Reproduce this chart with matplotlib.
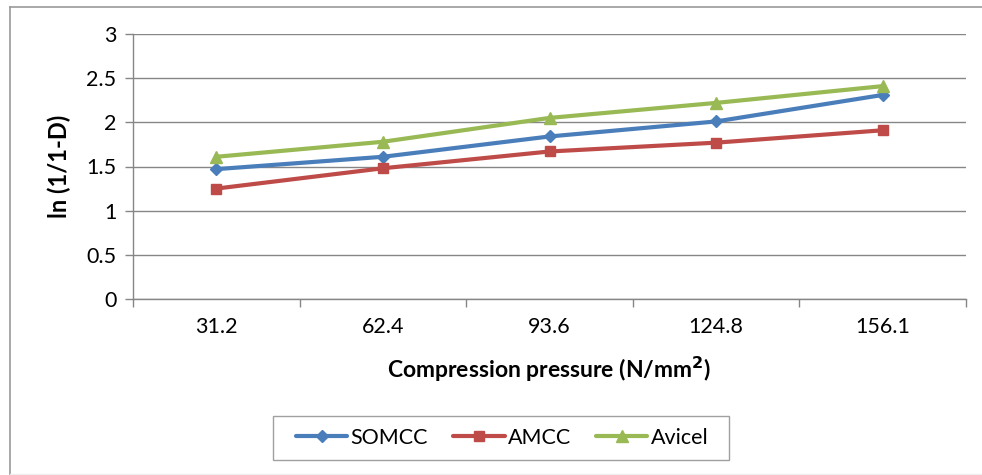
import matplotlib
matplotlib.use("Agg")
import matplotlib.pyplot as plt
from matplotlib.lines import Line2D
from matplotlib.patches import Rectangle

categories = ["31.2", "62.4", "93.6", "124.8", "156.1"]
somcc = [1.47, 1.61, 1.84, 2.01, 2.31]
amcc = [1.25, 1.48, 1.67, 1.77, 1.91]
avicel = [1.61, 1.78, 2.05, 2.22, 2.41]
yticks = [0, 0.5, 1, 1.5, 2, 2.5, 3]

plt.rcParams['font.family'] = ['Lato', 'DejaVu Sans']

W, H = 982, 475
fig = plt.figure(figsize=(W / 100, H / 100), dpi=100)
ax = fig.add_axes([133 / W, 1 - 299 / H, (966 - 133) / W, (299 - 34) / H])

FS = 15.5
x = list(range(len(categories)))
grid_c = "#868686"
ax.plot(x, somcc, color="#4A7EBB", lw=3, marker="D", ms=6, label="SOMCC", solid_capstyle="round")
ax.plot(x, amcc, color="#BE4B48", lw=3, marker="s", ms=7.5, label="AMCC", solid_capstyle="round")
ax.plot(x, avicel, color="#98B954", lw=3, marker="^", ms=9, label="Avicel", solid_capstyle="round")

ax.set_xlim(-0.5, len(categories) - 0.5)
ax.set_ylim(0, 3)
ax.set_yticks(yticks)
ax.set_yticklabels([f"{v:g}" for v in yticks], fontsize=FS)
ax.yaxis.grid(True, color=grid_c, lw=1)
ax.set_axisbelow(True)
ax.set_xticks(x)
ax.set_xticklabels(categories, fontsize=FS)
ax.tick_params(axis="x", length=0, pad=13)
ax.set_xticks([i - 0.5 for i in range(len(categories) + 1)], minor=True)
ax.tick_params(axis="x", which="minor", length=6, color=grid_c, width=1)
ax.tick_params(axis="y", length=6, color=grid_c, width=1, pad=6)
for s in ["top", "right"]:
    ax.spines[s].set_visible(False)
for s in ["left", "bottom"]:
    ax.spines[s].set_color(grid_c)
    ax.spines[s].set_linewidth(1)

ax.set_ylabel("ln (1/1-D)", fontsize=17, fontweight="bold", labelpad=11)
ax.set_xlabel("Compression pressure (N/mm$^\\mathbf{2}$)", fontsize=16.5, fontweight="bold", labelpad=13)

# chart frame (left and top edges visible, bottom faint)
fig.add_artist(Line2D([9.5 / W, 9.5 / W], [0, 1 - 6.5 / H], transform=fig.transFigure, color="#9A9A9A", lw=1.2))
fig.add_artist(Line2D([9.5 / W, 1], [1 - 6.5 / H, 1 - 6.5 / H], transform=fig.transFigure, color="#9A9A9A", lw=1.2))
fig.add_artist(Line2D([9.5 / W, 1], [1 - 473.5 / H, 1 - 473.5 / H], transform=fig.transFigure, color="#EEEEEE", lw=1))

# legend box
fig.add_artist(Rectangle((273 / W, 1 - 460 / H), (729 - 273) / W, (460 - 416) / H,
                         transform=fig.transFigure, fill=False, edgecolor="#A0A0A0", lw=1))
leg = fig.legend(loc="center", bbox_to_anchor=(502 / W, 1 - 438 / H), ncol=3, fontsize=FS,
                 frameon=False, handlelength=2.4,
                 handletextpad=0.15, columnspacing=1.15, borderpad=0.45, borderaxespad=0)

fig.savefig("out.png", dpi=100)
